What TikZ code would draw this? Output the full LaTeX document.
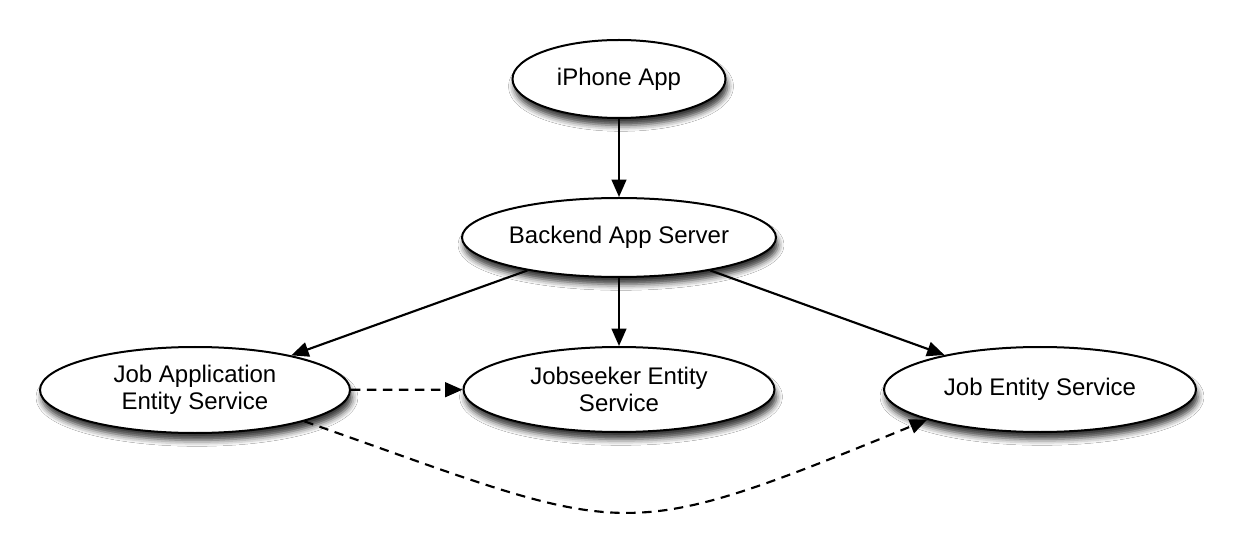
\documentclass[tikz,border=0pt]{standalone}
\usepackage{fontspec}
\setmainfont{Liberation Sans}
\usetikzlibrary{shapes.geometric,arrows.meta,shadows.blur}
\begin{document}
\begin{tikzpicture}[x=0.75pt,y=-0.75pt,
  svc/.style={ellipse,draw=black,line width=1.5pt,fill=white,inner sep=0pt,
    align=center,font=\fontsize{18}{20.5}\selectfont,
    blur shadow={shadow xshift=1.5pt,shadow yshift=-5.5pt,shadow blur radius=4.5pt,shadow opacity=80}},
  conn/.style={line width=1.6pt,-{Triangle[length=13pt,width=11pt]}},
  dep/.style={conn,dash pattern=on 7pt off 5pt}]
\useasboundingbox[fill=white] (0,0) rectangle (1234,534);
\node[svc,minimum width=159.75pt,minimum height=58.5pt] (ip) at (619,79) {iPhone App};
\node[svc,minimum width=235.5pt,minimum height=59.25pt] (be) at (619,237.5) {Backend App Server};
\node[svc,minimum width=232.5pt,minimum height=64.5pt] (ja) at (195,390) {Job Application\\Entity Service};
\node[svc,minimum width=233.25pt,minimum height=63.75pt] (js) at (619,389.5) {Jobseeker Entity\\Service};
\node[svc,minimum width=234pt,minimum height=63.75pt] (je) at (1040,389.5) {Job Entity Service};
\draw[conn] (ip) -- (be);
\draw[conn] (be) -- (ja);
\draw[conn] (be.south) -- (js.north);
\draw[conn] (be) -- (je);
\draw[dep] (ja) -- (js);
\draw[dep] (ja.-16) .. controls (632,536) and (611,549) .. (je.195);
\end{tikzpicture}
\end{document}
